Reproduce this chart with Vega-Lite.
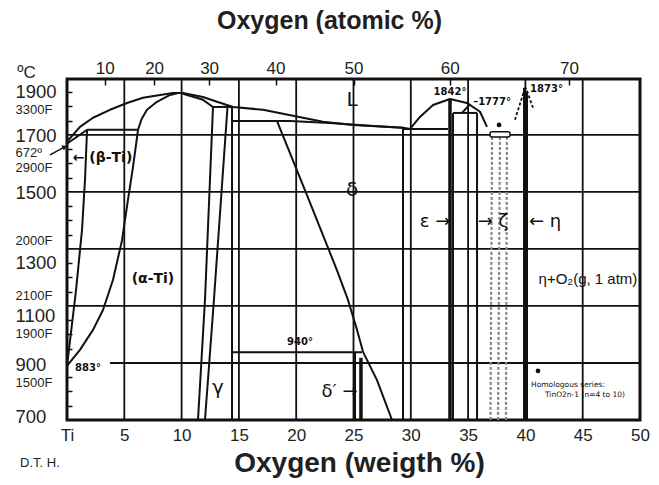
{
  "$schema": "https://vega.github.io/schema/vega-lite/v6.json",
  "width": 573,
  "height": 341,
  "autosize": {"type": "none"},
  "padding": {"left": 67, "top": 79, "right": 19, "bottom": 65},
  "background": "white",
  "config": {
    "view": {"stroke": "#111", "strokeWidth": 3},
    "font": "Liberation Sans"
  },
  "datasets": {
    "hgrid": [
      {"t": 900, "w0": 3.75, "w1": 50},
      {"t": 1100, "w0": 0, "w1": 50},
      {"t": 1300, "w0": 0, "w1": 50},
      {"t": 1500, "w0": 0, "w1": 50},
      {"t": 1700, "w0": 0, "w1": 50}
    ],
    "vgrid": [{"w": 5}, {"w": 10}, {"w": 15}, {"w": 20}, {"w": 25}, {"w": 30}, {"w": 35}, {"w": 40}, {"w": 45}],
    "bounds": [
      {"id": "liquidus", "o": 1, "w": 0, "t": 1676},
      {"id": "liquidus", "o": 2, "w": 1.13, "t": 1728},
      {"id": "liquidus", "o": 3, "w": 2.27, "t": 1760},
      {"id": "liquidus", "o": 4, "w": 3.75, "t": 1788},
      {"id": "liquidus", "o": 5, "w": 5.24, "t": 1812},
      {"id": "liquidus", "o": 6, "w": 6.63, "t": 1830},
      {"id": "liquidus", "o": 7, "w": 8.12, "t": 1840},
      {"id": "liquidus", "o": 8, "w": 9.25, "t": 1847},
      {"id": "liquidus", "o": 9, "w": 10.12, "t": 1847},
      {"id": "liquidus", "o": 10, "w": 11.87, "t": 1833},
      {"id": "liquidus", "o": 11, "w": 13.09, "t": 1816},
      {"id": "liquidus", "o": 12, "w": 14.49, "t": 1798},
      {"id": "liquidus", "o": 13, "w": 17.1, "t": 1788},
      {"id": "liquidus", "o": 14, "w": 18.85, "t": 1774},
      {"id": "liquidus", "o": 15, "w": 20.59, "t": 1760},
      {"id": "liquidus", "o": 16, "w": 22.34, "t": 1746},
      {"id": "liquidus", "o": 17, "w": 24.96, "t": 1735},
      {"id": "liquidus", "o": 18, "w": 29.32, "t": 1725},
      {"id": "liquidus", "o": 19, "w": 29.93, "t": 1721},
      {"id": "betasol", "o": 1, "w": 0, "t": 1669},
      {"id": "betasol", "o": 2, "w": 1.75, "t": 1718},
      {"id": "peritectic", "o": 1, "w": 1.75, "t": 1718},
      {"id": "peritectic", "o": 2, "w": 6.2, "t": 1718},
      {"id": "alphasol", "o": 1, "w": 6.2, "t": 1718},
      {"id": "alphasol", "o": 2, "w": 6.5, "t": 1755},
      {"id": "alphasol", "o": 3, "w": 6.98, "t": 1788},
      {"id": "alphasol", "o": 4, "w": 7.85, "t": 1816},
      {"id": "alphasol", "o": 5, "w": 8.99, "t": 1840},
      {"id": "alphasol", "o": 6, "w": 9.7, "t": 1847},
      {"id": "beta", "o": 1, "w": 1.75, "t": 1718},
      {"id": "beta", "o": 2, "w": 1.57, "t": 1542},
      {"id": "beta", "o": 3, "w": 1.31, "t": 1367},
      {"id": "beta", "o": 4, "w": 0.79, "t": 1156},
      {"id": "beta", "o": 5, "w": 0, "t": 890},
      {"id": "alpha", "o": 1, "w": 0, "t": 890},
      {"id": "alpha", "o": 2, "w": 1.13, "t": 946},
      {"id": "alpha", "o": 3, "w": 2.27, "t": 1016},
      {"id": "alpha", "o": 4, "w": 3.14, "t": 1086},
      {"id": "alpha", "o": 5, "w": 4.01, "t": 1191},
      {"id": "alpha", "o": 6, "w": 4.8, "t": 1330},
      {"id": "alpha", "o": 7, "w": 5.32, "t": 1472},
      {"id": "alpha", "o": 8, "w": 5.76, "t": 1588},
      {"id": "alpha", "o": 9, "w": 6.2, "t": 1718},
      {"id": "gsol", "o": 1, "w": 10.12, "t": 1844},
      {"id": "gsol", "o": 2, "w": 11.87, "t": 1823},
      {"id": "gsol", "o": 3, "w": 12.74, "t": 1798},
      {"id": "gtop", "o": 1, "w": 12.74, "t": 1798},
      {"id": "gtop", "o": 2, "w": 14.49, "t": 1798},
      {"id": "gA", "o": 1, "w": 12.74, "t": 1798},
      {"id": "gA", "o": 2, "w": 12.04, "t": 1121},
      {"id": "gA", "o": 3, "w": 11.43, "t": 700},
      {"id": "gB", "o": 1, "w": 14.0, "t": 1795},
      {"id": "gB", "o": 2, "w": 12.82, "t": 1121},
      {"id": "gB", "o": 3, "w": 12.04, "t": 700},
      {"id": "gC", "o": 1, "w": 14.4, "t": 1798},
      {"id": "gC", "o": 2, "w": 14.4, "t": 700},
      {"id": "dsol", "o": 1, "w": 14.49, "t": 1749},
      {"id": "dsol", "o": 2, "w": 19.46, "t": 1749},
      {"id": "dsol", "o": 3, "w": 22.95, "t": 1742},
      {"id": "dsol", "o": 4, "w": 26.44, "t": 1732},
      {"id": "dsol", "o": 5, "w": 29.32, "t": 1725},
      {"id": "dleft", "o": 1, "w": 18.32, "t": 1749},
      {"id": "dleft", "o": 2, "w": 20.94, "t": 1489},
      {"id": "dleft", "o": 3, "w": 23.56, "t": 1225},
      {"id": "dleft", "o": 4, "w": 24.52, "t": 1121},
      {"id": "dleft", "o": 5, "w": 25.31, "t": 1016},
      {"id": "dleft", "o": 6, "w": 25.83, "t": 939},
      {"id": "dleft", "o": 7, "w": 27.05, "t": 840},
      {"id": "dleft", "o": 8, "w": 28.36, "t": 700},
      {"id": "h940", "o": 1, "w": 14.49, "t": 938},
      {"id": "h940", "o": 2, "w": 25.74, "t": 938},
      {"id": "dprime", "o": 1, "w": 25.13, "t": 938},
      {"id": "dprime", "o": 2, "w": 25.13, "t": 700},
      {"id": "dright", "o": 1, "w": 29.32, "t": 1725},
      {"id": "dright", "o": 2, "w": 29.32, "t": 700},
      {"id": "eut", "o": 1, "w": 29.32, "t": 1721},
      {"id": "eut", "o": 2, "w": 33.25, "t": 1721},
      {"id": "dome", "o": 1, "w": 29.93, "t": 1721},
      {"id": "dome", "o": 2, "w": 30.8, "t": 1763},
      {"id": "dome", "o": 3, "w": 31.94, "t": 1805},
      {"id": "dome", "o": 4, "w": 33.42, "t": 1826},
      {"id": "dome", "o": 5, "w": 34.9, "t": 1812},
      {"id": "dome", "o": 6, "w": 36.04, "t": 1781},
      {"id": "dome", "o": 7, "w": 36.65, "t": 1728},
      {"id": "eps2", "o": 1, "w": 33.68, "t": 1777},
      {"id": "eps2", "o": 2, "w": 33.68, "t": 700},
      {"id": "h1777", "o": 1, "w": 33.68, "t": 1777},
      {"id": "h1777", "o": 2, "w": 35.78, "t": 1777},
      {"id": "s1777", "o": 1, "w": 34.47, "t": 1777},
      {"id": "s1777", "o": 2, "w": 35.17, "t": 1808},
      {"id": "zeta", "o": 1, "w": 35.78, "t": 1777},
      {"id": "zeta", "o": 2, "w": 35.78, "t": 700},
      {"id": "eta1", "o": 1, "w": 39.88, "t": 1865},
      {"id": "eta1", "o": 2, "w": 39.88, "t": 700},
      {"id": "eta2", "o": 1, "w": 40.14, "t": 1850},
      {"id": "eta2", "o": 2, "w": 40.14, "t": 700}
    ],
    "thick": [
      {"id": "eps", "o": 1, "w": 33.42, "t": 1826},
      {"id": "eps", "o": 2, "w": 33.42, "t": 700},
      {"id": "dp", "o": 1, "w": 25.65, "t": 918},
      {"id": "dp", "o": 2, "w": 25.65, "t": 700}
    ],
    "homologous": [
      {"id": "h1", "o": 1, "w": 37.09, "t": 1693},
      {"id": "h1", "o": 2, "w": 36.95, "t": 700},
      {"id": "h2", "o": 1, "w": 37.78, "t": 1693},
      {"id": "h2", "o": 2, "w": 37.61, "t": 700},
      {"id": "h3", "o": 1, "w": 38.39, "t": 1693},
      {"id": "h3", "o": 2, "w": 38.3, "t": 700}
    ],
    "arrowhead": [
      {"id": "a1", "o": 1, "w": 39.09, "t": 1753},
      {"id": "a1", "o": 2, "w": 39.97, "t": 1865},
      {"id": "a2", "o": 1, "w": 40.66, "t": 1795},
      {"id": "a2", "o": 2, "w": 40.05, "t": 1865}
    ],
    "pointer": [
      {"id": "p", "o": 1, "w": -1.48, "t": 1630},
      {"id": "p", "o": 2, "w": -0.2, "t": 1658}
    ],
    "pointerhead": [{"w": -0.2, "t": 1658}],
    "bar": [{"w0": 36.91, "w1": 38.66, "t0": 1693, "t1": 1711}],
    "dots": [{"w": 37.7, "t": 1735}, {"w": 41.1, "t": 872}],
    "labels": [
      {"g": "big", "w": 24.87, "t": 1823, "txt": "L"},
      {"g": "big", "w": 24.87, "t": 1507, "txt": "δ"},
      {"g": "big", "w": 13.18, "t": 812, "txt": "γ"},
      {"g": "alloy", "w": 3.1, "t": 1619, "txt": "← (β-Ti)"},
      {"g": "alloy", "w": 7.5, "t": 1195, "txt": "(α-Ti)"},
      {"g": "greek", "w": 23.78, "t": 798, "txt": "δ′ →"},
      {"g": "greek", "w": 32.11, "t": 1395, "txt": "ε →"},
      {"g": "greek", "w": 37.17, "t": 1395, "txt": "→ ζ"},
      {"g": "greek", "w": 41.71, "t": 1395, "txt": "← η"},
      {"g": "mid", "w": 45.46, "t": 1195, "txt": "η+O₂(g, 1 atm)"},
      {"g": "small", "w": 1.83, "t": 882, "txt": "883°"},
      {"g": "small", "w": 20.33, "t": 974, "txt": "940°"},
      {"g": "small", "w": 33.42, "t": 1851, "txt": "1842°"},
      {"g": "small", "w": 37.09, "t": 1816, "txt": "–1777°"},
      {"g": "small", "w": 41.84, "t": 1861, "txt": "1873°"},
      {"g": "tiny", "w": 43.72, "t": 823, "txt": "Homologous series:"},
      {"g": "tiny", "w": 45.2, "t": 788, "txt": "TinO2n-1   (n=4 to 10)"},
      {"g": "credit", "w": -4.1, "t": 549, "txt": "D.T. H."}
    ]
  },
  "resolve": {"axis": {"x": "independent", "y": "independent"}},
  "layer": [
    {
      "data": {"name": "hgrid"},
      "mark": {"type": "rule", "stroke": "#111", "strokeWidth": 1.8},
      "encoding": {
        "y": {
          "field": "t", "type": "quantitative",
          "scale": {"domain": [700, 1896], "nice": false, "zero": false},
          "axis": {
            "values": [1851, 1697, 1497, 1254, 1065, 893, 711, 1788, 1637, 1584, 1328, 1135, 1005, 830],
            "labelExpr": "datum.value==1851?'1900':datum.value==1697?'1700':datum.value==1497?'1500':datum.value==1254?'1300':datum.value==1065?'1100':datum.value==893?'900':datum.value==711?'700':datum.value==1788?'3300F':datum.value==1637?'672º':datum.value==1584?'2900F':datum.value==1328?'2000F':datum.value==1135?'2100F':datum.value==1005?'1900F':'1500F'",
            "labelFontSize": {"condition": {"test": "indexof([1851,1697,1497,1254,1065,893,711], datum.value) >= 0", "value": 18.5}, "value": 13},
            "labelAlign": "left",
            "labelBaseline": "middle",
            "labelPadding": 52,
            "labelColor": "#231f20",
            "labelOverlap": false,
            "labelFlush": false,
            "labelBound": false,
            "ticks": false,
            "tickSize": 0,
            "domain": false,
            "grid": false,
            "title": "ºC",
            "titleAngle": 0,
            "titleX": -41,
            "titleY": -7,
            "titleAlign": "center",
            "titleBaseline": "middle",
            "titleFontSize": 17,
            "titleFontWeight": "normal",
            "titleColor": "#231f20"
          }
        },
        "x": {
          "field": "w0", "type": "quantitative",
          "scale": {"domain": [0, 50], "nice": false, "zero": false},
          "axis": {
            "orient": "bottom",
            "values": [0, 5, 10, 15, 20, 25, 30, 35, 40, 45, 50],
            "labelExpr": "datum.value==0?'Ti':datum.label",
            "labelFontSize": 17,
            "labelPadding": 7,
            "labelColor": "#231f20",
            "labelFlush": false,
            "labelOverlap": false,
            "ticks": false,
            "tickSize": 0,
            "domain": false,
            "grid": false,
            "title": "Oxygen (weigth %)",
            "titleFontSize": 28,
            "titleFontWeight": "bold",
            "titleColor": "#231f20",
            "titleX": 292,
            "titleY": 43,
            "titleBaseline": "middle",
            "titleAlign": "center"
          }
        },
        "x2": {"field": "w1"}
      }
    },
    {
      "data": {"name": "vgrid"},
      "mark": {"type": "rule", "stroke": "#111", "strokeWidth": 1.8},
      "encoding": {
        "x": {
          "field": "w", "type": "quantitative",
          "scale": {"domain": [0, 50], "nice": false, "zero": false},
          "axis": {
            "orient": "top",
            "values": [3.3, 7.6, 12.4, 18.2, 25, 33.4, 43.8],
            "labelExpr": "datum.value<5?'10':datum.value<10?'20':datum.value<15?'30':datum.value<20?'40':datum.value<30?'50':datum.value<40?'60':'70'",
            "labelFontSize": 17,
            "labelPadding": 8,
            "labelColor": "#231f20",
            "labelFlush": false,
            "labelOverlap": false,
            "ticks": true,
            "tickSize": -6,
            "tickColor": "#111",
            "tickWidth": 1.5,
            "domain": false,
            "grid": false,
            "title": "Oxygen (atomic %)",
            "titleFontSize": 25,
            "titleFontWeight": "bold",
            "titleColor": "#231f20",
            "titleX": 262,
            "titleY": -59,
            "titleBaseline": "middle",
            "titleAlign": "center"
          }
        }
      }
    },
    {
      "data": {"name": "bounds"},
      "mark": {"type": "line", "stroke": "#111", "strokeWidth": 2, "strokeJoin": "round"},
      "encoding": {
        "x": {"field": "w", "type": "quantitative", "scale": {"domain": [0, 50], "nice": false, "zero": false}, "axis": null},
        "y": {
          "field": "t", "type": "quantitative",
          "scale": {"domain": [700, 1896], "nice": false, "zero": false},
          "axis": {
            "orient": "left",
            "values": [750, 800, 850, 950, 1000, 1050, 1150, 1200, 1250, 1350, 1400, 1450, 1550, 1600, 1650, 1750, 1800, 1850],
            "labels": false,
            "ticks": true,
            "tickSize": -5,
            "tickColor": "#111",
            "tickWidth": 1.5,
            "domain": false,
            "grid": false,
            "title": null
          }
        },
        "detail": {"field": "id"},
        "order": {"field": "o"}
      }
    },
    {
      "data": {"name": "thick"},
      "mark": {"type": "line", "stroke": "#111", "strokeWidth": 3.5},
      "encoding": {
        "x": {"field": "w", "type": "quantitative", "axis": null},
        "y": {"field": "t", "type": "quantitative", "axis": null},
        "detail": {"field": "id"},
        "order": {"field": "o"}
      }
    },
    {
      "data": {"name": "homologous"},
      "mark": {"type": "line", "stroke": "#888", "strokeWidth": 2.2, "strokeDash": [3, 2]},
      "encoding": {
        "x": {"field": "w", "type": "quantitative", "axis": null},
        "y": {"field": "t", "type": "quantitative", "axis": null},
        "detail": {"field": "id"},
        "order": {"field": "o"}
      }
    },
    {
      "data": {"name": "arrowhead"},
      "mark": {"type": "line", "stroke": "#111", "strokeWidth": 1.8, "strokeDash": [3, 2]},
      "encoding": {
        "x": {"field": "w", "type": "quantitative", "axis": null},
        "y": {"field": "t", "type": "quantitative", "axis": null},
        "detail": {"field": "id"},
        "order": {"field": "o"}
      }
    },
    {
      "data": {"name": "pointer"},
      "mark": {"type": "line", "stroke": "#111", "strokeWidth": 1.5, "clip": false},
      "encoding": {
        "x": {"field": "w", "type": "quantitative", "axis": null},
        "y": {"field": "t", "type": "quantitative", "axis": null},
        "detail": {"field": "id"},
        "order": {"field": "o"}
      }
    },
    {
      "data": {"name": "pointerhead"},
      "mark": {"type": "point", "shape": "triangle-right", "filled": true, "color": "#111", "size": 30, "angle": -29, "opacity": 1, "clip": false},
      "encoding": {
        "x": {"field": "w", "type": "quantitative", "axis": null},
        "y": {"field": "t", "type": "quantitative", "axis": null}
      }
    },
    {
      "data": {"name": "bar"},
      "mark": {"type": "rect", "fill": "white", "stroke": "#111", "strokeWidth": 1.5, "cornerRadius": 2},
      "encoding": {
        "x": {"field": "w0", "type": "quantitative", "axis": null},
        "x2": {"field": "w1"},
        "y": {"field": "t0", "type": "quantitative", "axis": null},
        "y2": {"field": "t1"}
      }
    },
    {
      "data": {"name": "dots"},
      "mark": {"type": "point", "shape": "circle", "filled": true, "color": "#111", "size": 22, "opacity": 1},
      "encoding": {
        "x": {"field": "w", "type": "quantitative", "axis": null},
        "y": {"field": "t", "type": "quantitative", "axis": null}
      }
    },
    {
      "data": {"name": "labels"},
      "transform": [{"filter": "datum.g=='big'"}],
      "mark": {"type": "text", "fontSize": 20, "color": "#111", "align": "center", "baseline": "middle", "font": "DejaVu Sans"},
      "encoding": {
        "x": {"field": "w", "type": "quantitative", "axis": null},
        "y": {"field": "t", "type": "quantitative", "axis": null},
        "text": {"field": "txt"}
      }
    },
    {
      "data": {"name": "labels"},
      "transform": [{"filter": "datum.g=='alloy'"}],
      "mark": {"type": "text", "fontSize": 14, "fontWeight": "bold", "color": "#111", "align": "center", "baseline": "middle", "font": "DejaVu Sans"},
      "encoding": {
        "x": {"field": "w", "type": "quantitative", "axis": null},
        "y": {"field": "t", "type": "quantitative", "axis": null},
        "text": {"field": "txt"}
      }
    },
    {
      "data": {"name": "labels"},
      "transform": [{"filter": "datum.g=='greek'"}],
      "mark": {"type": "text", "fontSize": 18, "color": "#111", "align": "center", "baseline": "middle", "font": "DejaVu Sans"},
      "encoding": {
        "x": {"field": "w", "type": "quantitative", "axis": null},
        "y": {"field": "t", "type": "quantitative", "axis": null},
        "text": {"field": "txt"}
      }
    },
    {
      "data": {"name": "labels"},
      "transform": [{"filter": "datum.g=='mid'"}],
      "mark": {"type": "text", "fontSize": 15, "color": "#111", "align": "center", "baseline": "middle", "font": "Liberation Sans"},
      "encoding": {
        "x": {"field": "w", "type": "quantitative", "axis": null},
        "y": {"field": "t", "type": "quantitative", "axis": null},
        "text": {"field": "txt"}
      }
    },
    {
      "data": {"name": "labels"},
      "transform": [{"filter": "datum.g=='small'"}],
      "mark": {"type": "text", "fontSize": 10, "fontWeight": "bold", "color": "#111", "align": "center", "baseline": "middle", "font": "DejaVu Sans"},
      "encoding": {
        "x": {"field": "w", "type": "quantitative", "axis": null},
        "y": {"field": "t", "type": "quantitative", "axis": null},
        "text": {"field": "txt"}
      }
    },
    {
      "data": {"name": "labels"},
      "transform": [{"filter": "datum.g=='tiny'"}],
      "mark": {"type": "text", "fontSize": 7.5, "color": "#111", "align": "center", "baseline": "middle", "font": "DejaVu Sans"},
      "encoding": {
        "x": {"field": "w", "type": "quantitative", "axis": null},
        "y": {"field": "t", "type": "quantitative", "axis": null},
        "text": {"field": "txt"}
      }
    },
    {
      "data": {"name": "labels"},
      "transform": [{"filter": "datum.g=='credit'"}],
      "mark": {"type": "text", "fontSize": 13, "color": "#231f20", "align": "left", "baseline": "middle", "font": "Liberation Sans", "clip": false},
      "encoding": {
        "x": {"field": "w", "type": "quantitative", "axis": null},
        "y": {"field": "t", "type": "quantitative", "axis": null},
        "text": {"field": "txt"}
      }
    }
  ]
}
